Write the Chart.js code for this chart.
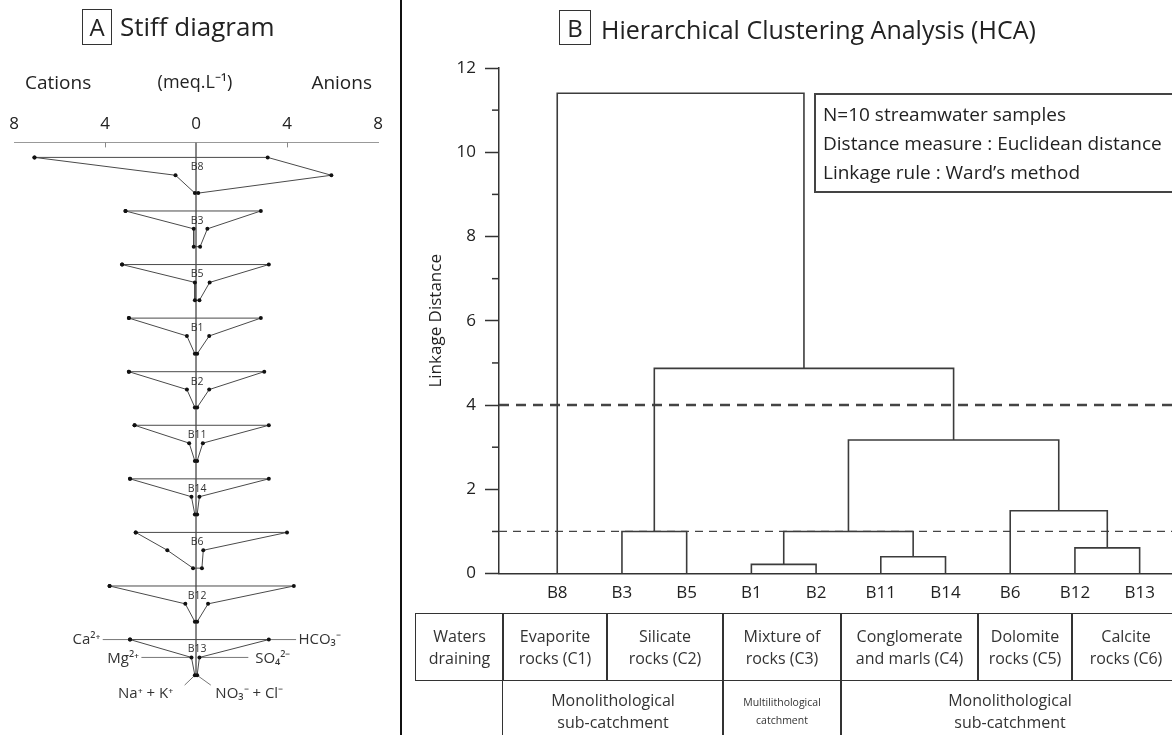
<!DOCTYPE html>
<html>
<head>
<meta charset="utf-8">
<script src="https://cdn.jsdelivr.net/npm/chart.js@4"></script>
<style>
  body { margin:0; width:1172px; height:735px; position:relative; overflow:hidden; background:#fff; font-family:'Open Sans', sans-serif; color:#222; }
  canvas { position:absolute; top:0; }
  #stiff { left:0; }
  #hca { left:400px; }
  .sep { position:absolute; left:400px; top:0; width:2px; height:735px; background:#111; }
  .letter { position:absolute; box-sizing:border-box; border:1px solid #333; font-size:24px; line-height:33px; text-align:center; }
  .txt { position:absolute; white-space:nowrap; line-height:1.3; }
  .cell { position:absolute; box-sizing:border-box; border:1.5px solid #333; display:flex; align-items:center; justify-content:center; text-align:center; font-size:16px; line-height:22px; color:#333; }
  .info { position:absolute; left:814px; top:93px; width:380px; height:100px; box-sizing:border-box; border:2px solid #444; padding:5px 0 0 7px; font-size:19px; line-height:29px; color:#222; }
</style>
</head>
<body>
<canvas id="stiff" width="400" height="735"></canvas>
<canvas id="hca" width="772" height="735"></canvas>
<div class="sep"></div>

<div class="letter" style="left:82px;top:9px;width:30px;height:36px;">A</div>
<div class="txt" style="left:120px;top:10px;font-size:26px;">Stiff diagram</div>
<div class="txt" style="left:25px;top:70px;font-size:19px;">Cations</div>
<div class="txt" style="left:195px;top:70px;font-size:18px;transform:translateX(-50%);">(meq.L⁻¹)</div>
<div class="txt" style="right:800px;top:70px;font-size:19px;">Anions</div>

<div class="letter" style="left:559px;top:10px;width:32px;height:35px;">B</div>
<div class="txt" style="left:601px;top:13px;font-size:25px;">Hierarchical Clustering Analysis (HCA)</div>

<div class="info">N=10 streamwater samples<br>Distance measure : Euclidean distance<br>Linkage rule : Ward’s method</div>

<div class="cell" style="left:415px;top:613px;width:89px;height:68px;">Waters<br>draining</div>
<div class="cell" style="left:502px;top:613px;width:106px;height:68px;">Evaporite<br>rocks (C1)</div>
<div class="cell" style="left:606px;top:613px;width:118px;height:68px;">Silicate<br>rocks (C2)</div>
<div class="cell" style="left:722px;top:613px;width:120px;height:68px;">Mixture of<br>rocks (C3)</div>
<div class="cell" style="left:840px;top:613px;width:139px;height:68px;">Conglomerate<br>and marls (C4)</div>
<div class="cell" style="left:977px;top:613px;width:96px;height:68px;">Dolomite<br>rocks (C5)</div>
<div class="cell" style="left:1071px;top:613px;width:110px;height:68px;">Calcite<br>rocks (C6)</div>
<div class="cell" style="left:502px;top:679px;width:222px;height:70px;border-top:none;padding-bottom:6px;">Monolithological<br>sub-catchment</div>
<div class="cell" style="left:722px;top:679px;width:120px;height:70px;border-top:none;font-size:10.5px;line-height:18px;padding-bottom:6px;">Multilithological<br>catchment</div>
<div class="cell" style="left:840px;top:679px;width:340px;height:70px;border-top:none;padding-bottom:6px;">Monolithological<br>sub-catchment</div>

<script>
// ---- Stiff diagram data (meq/L) ----
const samples = ['B8', 'B3', 'B5', 'B1', 'B2', 'B11', 'B14', 'B6', 'B12', 'B13'];
const ca    = [7.1, 3.1, 3.25, 2.95, 2.95, 2.7, 2.9, 2.65, 3.8, 2.9];
const mg    = [0.9, 0.1, 0.05, 0.4, 0.4, 0.3, 0.2, 1.26, 0.47, 0.2];
const naK   = [0.05, 0.1, 0.05, 0.05, 0.05, 0.05, 0.05, 0.13, 0.05, 0.05];
const hco3  = [3.15, 2.85, 3.2, 2.85, 3.0, 3.2, 3.2, 4.0, 4.3, 3.2];
const so4   = [5.95, 0.5, 0.6, 0.58, 0.58, 0.3, 0.15, 0.32, 0.53, 0.15];
const no3Cl = [0.1, 0.18, 0.15, 0.05, 0.05, 0.05, 0.05, 0.26, 0.05, 0.05];

// ---- HCA data ----
const leaves = ['B8', 'B3', 'B5', 'B1', 'B2', 'B11', 'B14', 'B6', 'B12', 'B13'];
const mergeLeft   = ['B1', 'B11', 'B12', 'B3', 'm1', 'B6', 'm5', 'm4', 'B8'];
const mergeRight  = ['B2', 'B14', 'B13', 'B5', 'm2', 'm3', 'm6', 'm7', 'm8'];
const mergeHeight = [0.22, 0.4, 0.61, 1.0, 1.0, 1.49, 3.17, 4.87, 11.4];
const cutLevels = [4, 1];

const ROW = 3; // each sample uses 3 rows: Ca/HCO3, Mg/SO4, Na+K/NO3+Cl

// stiff polygons
const stiffSets = samples.map((s, i) => ({
  label: s,
  data: [
    {x: -ca[i], y: i * ROW}, {x: -mg[i], y: i * ROW + 1}, {x: -naK[i], y: i * ROW + 2},
    {x: no3Cl[i], y: i * ROW + 2}, {x: so4[i], y: i * ROW + 1}, {x: hco3[i], y: i * ROW},
    {x: -ca[i], y: i * ROW}
  ],
  showLine: true, borderColor: '#4a4a4a', borderWidth: 1,
  pointRadius: 2, pointBackgroundColor: '#111', pointBorderWidth: 0
}));

const last = samples.length - 1;
const lastTop = last * ROW;
function guide(pts) {
  return { data: pts, showLine: true, borderColor: '#777', borderWidth: 1, pointRadius: 0 };
}
stiffSets.push(guide([{x: 0, y: -0.84}, {x: 0, y: lastTop + 2}]));
stiffSets.push(guide([{x: -4.1, y: lastTop}, {x: -ca[last], y: lastTop}]));
stiffSets.push(guide([{x: hco3[last], y: lastTop}, {x: 4.4, y: lastTop}]));
stiffSets.push(guide([{x: -2.4, y: lastTop + 1}, {x: -mg[last], y: lastTop + 1}]));
stiffSets.push(guide([{x: so4[last], y: lastTop + 1}, {x: 2.3, y: lastTop + 1}]));
stiffSets.push(guide([{x: -naK[last], y: lastTop + 2}, {x: -0.5, y: lastTop + 2.55}]));
stiffSets.push(guide([{x: no3Cl[last], y: lastTop + 2}, {x: 0.65, y: lastTop + 2.55}]));

const stiffLabels = {
  id: 'stiffLabels',
  afterDatasetsDraw(chart) {
    const {ctx, scales: {x, y}} = chart;
    ctx.save();
    ctx.fillStyle = '#333';
    ctx.textBaseline = 'middle';
    ctx.textAlign = 'center';
    ctx.font = '10.5px "Open Sans"';
    samples.forEach((s, i) => ctx.fillText(s, x.getPixelForValue(0.05), y.getPixelForValue(i * ROW + 0.55)));
    // downward tick marks on the top axis
    ctx.strokeStyle = '#888';
    ctx.lineWidth = 1;
    [-4, 4].forEach(v => {
      const px = Math.round(x.getPixelForValue(v)) + 0.5;
      ctx.beginPath(); ctx.moveTo(px, chart.chartArea.top); ctx.lineTo(px, chart.chartArea.top + 5); ctx.stroke();
    });
    // ion names beside the last sample
    ctx.font = '15px "Open Sans"';
    ctx.fillStyle = '#333';
    ctx.textAlign = 'right';
    ctx.fillText('Ca²⁺', x.getPixelForValue(-4.2), y.getPixelForValue(lastTop));
    ctx.fillText('Mg²⁺', x.getPixelForValue(-2.5), y.getPixelForValue(lastTop + 1.05));
    ctx.fillText('Na⁺ + K⁺', x.getPixelForValue(-1.0), y.getPixelForValue(lastTop + 3.05));
    ctx.textAlign = 'left';
    ctx.fillText('HCO₃⁻', x.getPixelForValue(4.5), y.getPixelForValue(lastTop));
    ctx.fillText('SO₄²⁻', x.getPixelForValue(2.6), y.getPixelForValue(lastTop + 1.05));
    ctx.fillText('NO₃⁻ + Cl⁻', x.getPixelForValue(0.85), y.getPixelForValue(lastTop + 3.05));
    ctx.restore();
  }
};

new Chart(document.getElementById('stiff'), {
  type: 'scatter',
  data: { datasets: stiffSets },
  options: {
    responsive: false, animation: false,
    layout: { padding: { left: 14, right: 22, top: 114, bottom: 24 } },
    plugins: { legend: { display: false }, tooltip: { enabled: false } },
    scales: {
      x: {
        type: 'linear', position: 'top', min: -8, max: 8,
        ticks: { stepSize: 4, callback: v => Math.abs(v), font: { family: 'Open Sans', size: 17 }, color: '#222', padding: 0 },
        grid: { display: false },
        border: { display: true, color: '#999', width: 1 }
      },
      y: { type: 'linear', reverse: true, min: -0.84, max: 31, display: false }
    }
  },
  plugins: [stiffLabels]
});

// ---- dendrogram ----
const pos = {};
leaves.forEach((n, i) => { pos[n] = {x: i + 1, h: 0}; });
const treeSets = [];
mergeHeight.forEach((h, k) => {
  const a = pos[mergeLeft[k]], b = pos[mergeRight[k]];
  treeSets.push({
    data: [{x: a.x, y: a.h}, {x: a.x, y: h}, {x: b.x, y: h}, {x: b.x, y: b.h}],
    showLine: true, borderColor: '#3c3c3c', borderWidth: 1.6, pointRadius: 0
  });
  pos['m' + (k + 1)] = {x: (a.x + b.x) / 2, h: h};
});
cutLevels.forEach((c, k) => {
  treeSets.push({
    data: [{x: 0.1, y: c}, {x: 10.5, y: c}],
    showLine: true, borderColor: '#444', borderWidth: k === 0 ? 2.6 : 1.2,
    borderDash: k === 0 ? [10, 7] : [8, 6], pointRadius: 0
  });
});

const minorTicks = {
  id: 'minorTicks',
  afterDraw(chart) {
    const {ctx, scales: {y}, chartArea} = chart;
    ctx.save();
    ctx.strokeStyle = '#333';
    ctx.lineWidth = 1.5;
    for (let v = 1; v < 12; v += 2) {
      const py = y.getPixelForValue(v);
      ctx.beginPath(); ctx.moveTo(chartArea.left - 7, py); ctx.lineTo(chartArea.left, py); ctx.stroke();
    }
    ctx.restore();
  }
};

new Chart(document.getElementById('hca'), {
  type: 'scatter',
  data: { datasets: treeSets },
  options: {
    responsive: false, animation: false,
    layout: { padding: { left: 0, right: 0, top: 68, bottom: 123 } },
    plugins: { legend: { display: false }, tooltip: { enabled: false } },
    scales: {
      x: {
        type: 'linear', min: 0.1, max: 10.5,
        afterBuildTicks: s => { s.ticks = leaves.map((n, i) => ({value: i + 1})); },
        ticks: { callback: v => leaves[v - 1] || '', font: { family: 'Open Sans', size: 17 }, color: '#222', padding: 9, autoSkip: false, maxRotation: 0 },
        grid: { drawOnChartArea: false, drawTicks: false },
        border: { color: '#333', width: 1.5 }
      },
      y: {
        min: 0, max: 12,
        afterFit: s => { s.width = 99; },
        ticks: { stepSize: 1, callback: v => (v % 2 === 0 ? v : ''), font: { family: 'Open Sans', size: 17 }, color: '#222', padding: 9 },
        grid: { drawOnChartArea: false, tickLength: 14, tickWidth: 1.5,
                tickColor: c => (c.tick && c.tick.value % 2 === 0 ? '#333' : 'rgba(0,0,0,0)') },
        border: { color: '#333', width: 1.5 },
        title: { display: true, text: 'Linkage Distance', font: { family: 'Open Sans', size: 17 }, color: '#222', padding: { top: 26, bottom: 0 } }
      }
    }
  },
  plugins: [minorTicks]
});
</script>
</body>
</html>
